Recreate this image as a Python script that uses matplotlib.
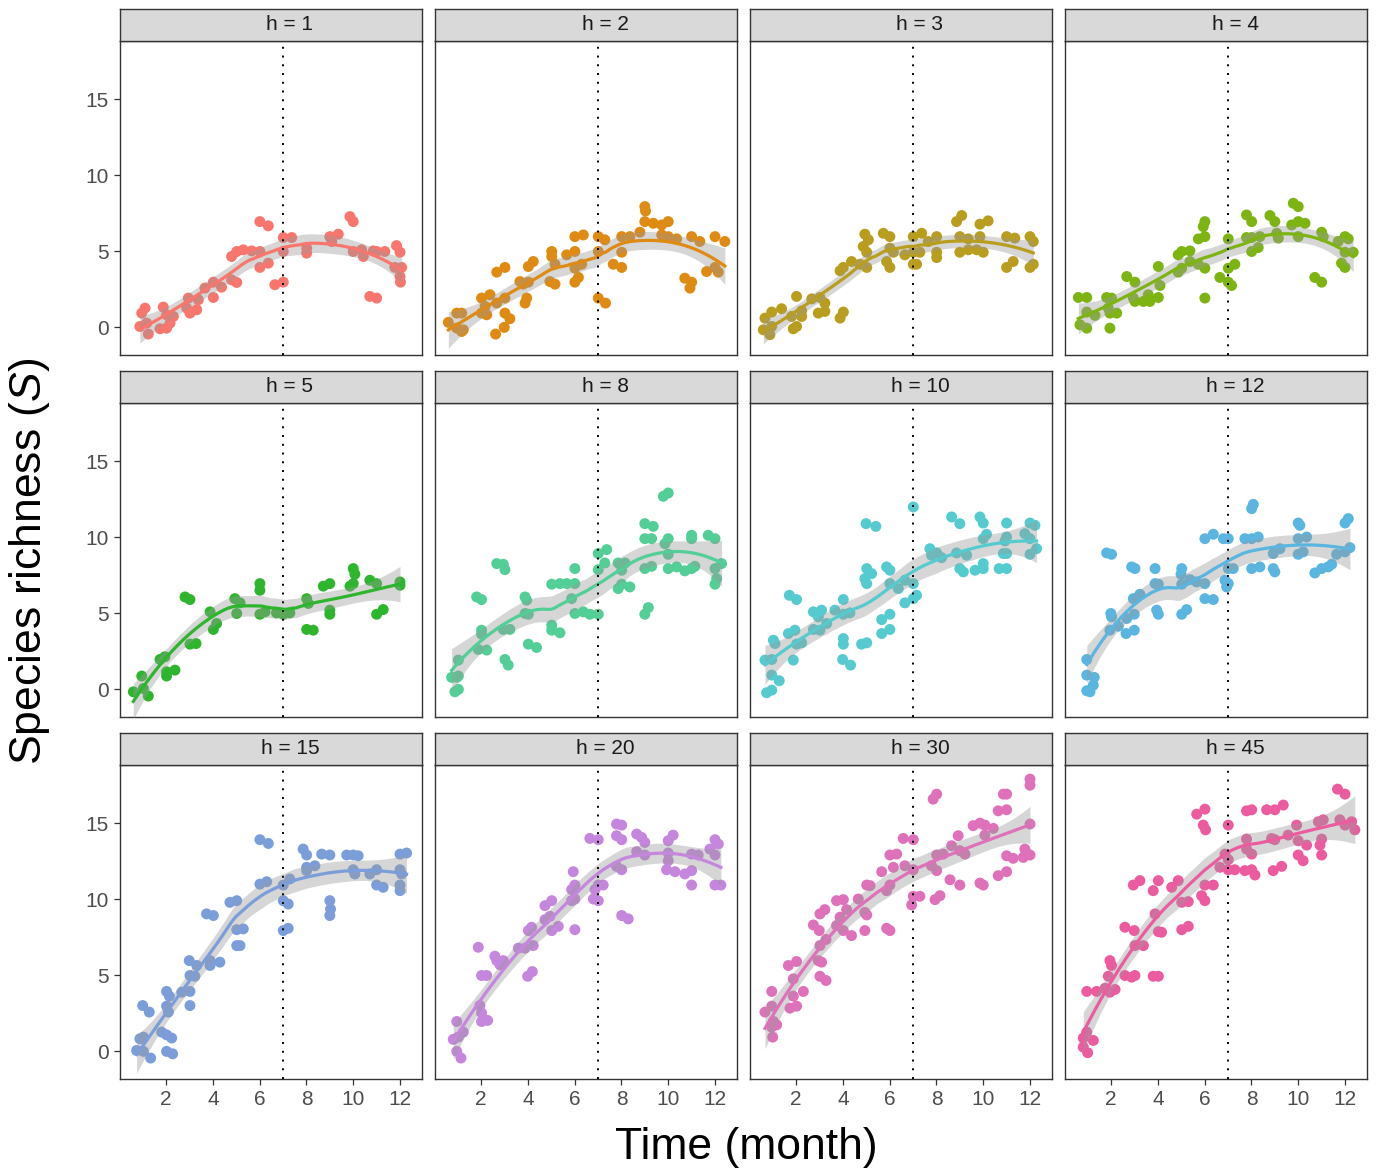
import numpy as np
import matplotlib
matplotlib.use("Agg")
import matplotlib.pyplot as plt

plt.rcParams["font.family"] = ["Liberation Sans", "DejaVu Sans"]
plt.rcParams["mathtext.fontset"] = "custom"
plt.rcParams["mathtext.rm"] = "Liberation Sans"
plt.rcParams["mathtext.it"] = "Liberation Sans:italic"

# panel labels and colours
h_values = [1, 2, 3, 4, 5, 8, 10, 12, 15, 20, 30, 45]
colors = ["#F8766D", "#DF8A12", "#B99D1E", "#7DB412", "#2DB52D", "#52CE96",
          "#56CBCF", "#5AB5E0", "#7B9EDB", "#C586DD", "#DF70BA", "#EC5B9F"]

# (time in months, species richness)
h1_points = [(1.10, 1.25), (0.96, 0.92), (0.88, 0.04), (1.17, 0.26), (1.24, -0.46), (1.88, 1.32),
             (2.02, 0.81), (1.74, -0.11), (2.02, -0.07), (2.31, 0.70), (2.17, 0.26), (2.95, 1.91),
             (2.88, 1.25), (3.02, 0.92), (3.31, 1.14), (3.38, 1.80), (3.66, 2.57), (4.02, 2.96),
             (4.02, 1.95), (4.37, 2.63), (4.80, 3.11), (5.02, 2.94), (4.80, 4.65), (5.02, 4.98),
             (5.30, 5.09), (5.66, 5.02), (6.01, 4.98), (6.01, 3.93), (6.37, 4.21), (6.01, 6.95),
             (6.37, 6.67), (6.65, 2.79), (7.01, 2.96), (7.01, 4.98), (7.01, 5.90), (7.37, 5.90),
             (8.01, 5.20), (8.01, 4.87), (9.00, 5.96), (9.36, 6.12), (9.08, 5.64), (9.86, 7.28),
             (10.00, 6.95), (10.00, 4.98), (10.36, 5.09), (10.43, 4.65), (10.86, 5.02), (11.00, 4.98),
             (11.35, 4.98), (10.71, 2.02), (11.00, 1.91), (11.85, 5.37), (12.00, 4.93), (11.78, 3.93),
             (12.07, 3.93), (12.00, 3.33), (12.02, 2.96)]
h2_points = [(0.60, 0.31), (0.96, 0.92), (1.17, 0.92), (0.96, -0.07), (1.17, -0.29), (1.24, -0.18),
             (2.02, 1.91), (2.38, 2.13), (2.17, 1.36), (2.24, 0.81), (2.02, 0.92), (2.67, 1.58),
             (3.02, 1.91), (2.67, 3.62), (3.02, 3.93), (2.62, -0.46), (2.99, -0.02), (3.02, 0.92),
             (3.23, 0.55), (3.66, 3.00), (3.80, 2.83), (4.02, 3.99), (4.23, 4.32), (3.95, 1.91),
             (3.88, 1.58), (4.02, 2.96), (5.02, 4.98), (5.02, 4.65), (5.16, 4.14), (4.94, 3.00),
             (5.16, 2.83), (5.66, 4.76), (6.01, 4.98), (6.01, 5.96), (6.37, 6.07), (6.01, 3.88),
             (6.30, 4.14), (6.01, 2.96), (6.16, 3.27), (7.01, 5.96), (7.29, 5.75), (7.01, 4.98),
             (7.01, 1.91), (7.32, 1.58), (7.65, 4.14), (8.01, 3.93), (8.01, 4.93), (8.01, 5.96),
             (8.36, 5.96), (8.79, 6.25), (9.00, 7.94), (9.03, 7.65), (9.00, 6.95), (9.36, 6.84),
             (9.72, 6.73), (10.00, 6.95), (9.72, 6.07), (10.00, 5.96), (10.36, 5.81), (10.71, 3.22),
             (11.00, 2.96), (10.93, 2.57), (11.00, 5.96), (11.35, 5.64), (11.64, 3.66), (12.00, 5.96),
             (12.42, 5.64), (12.00, 3.93), (12.14, 3.62)]
h3_points = [(0.67, 0.59), (0.96, 0.99), (1.38, 1.21), (0.60, -0.18), (0.88, -0.50), (0.96, 0.04),
             (1.88, -0.11), (2.02, 0.04), (2.02, 2.02), (1.81, 0.70), (2.24, 0.70), (2.24, 1.07),
             (2.67, 1.86), (3.02, 1.95), (3.23, 1.58), (2.95, 0.92), (3.23, 1.03), (3.88, 0.59),
             (4.02, 0.99), (3.88, 3.71), (4.02, 3.93), (4.37, 4.32), (4.94, 6.12), (5.09, 5.75),
             (4.87, 5.31), (5.02, 4.93), (4.73, 4.14), (5.02, 3.93), (5.73, 6.18), (6.01, 5.96),
             (6.01, 5.20), (6.16, 4.93), (5.87, 4.32), (6.01, 3.93), (6.65, 4.76), (7.01, 5.96),
             (7.37, 6.18), (7.01, 4.93), (7.29, 4.93), (7.01, 4.14), (7.15, 4.14), (7.65, 5.64),
             (8.01, 5.96), (8.01, 4.93), (8.01, 4.58), (8.86, 6.95), (9.08, 7.35), (9.00, 5.96),
             (9.36, 5.81), (9.00, 4.93), (9.36, 5.09), (9.72, 5.09), (10.00, 4.93), (9.86, 6.78),
             (10.21, 7.00), (9.86, 5.96), (11.00, 5.96), (11.35, 5.86), (11.00, 3.93), (11.28, 4.32),
             (12.00, 5.96), (12.14, 5.64), (12.00, 3.93), (12.14, 4.14)]
h4_points = [(0.60, 1.95), (0.96, 1.95), (0.96, 0.99), (0.67, 0.15), (0.96, -0.07), (1.31, 0.77),
             (1.81, 1.95), (2.02, 1.91), (1.88, 1.25), (1.95, 0.92), (2.24, 0.92), (1.95, -0.07),
             (2.67, 3.33), (3.02, 2.96), (2.95, 1.91), (3.02, 1.69), (3.38, 1.69), (3.59, 2.13),
             (3.66, 1.69), (4.02, 1.95), (4.02, 3.99), (4.09, 2.74), (4.87, 4.76), (5.02, 4.98),
             (5.37, 5.02), (4.87, 3.62), (5.02, 3.88), (5.37, 4.32), (5.73, 4.14), (6.01, 3.88),
             (6.01, 1.91), (6.01, 6.95), (5.94, 6.62), (5.73, 5.81), (6.01, 5.96), (6.65, 3.27),
             (7.01, 2.96), (7.15, 2.74), (7.01, 3.88), (7.29, 4.14), (7.01, 5.81), (7.79, 7.39),
             (8.01, 6.95), (7.79, 5.90), (8.01, 5.90), (8.36, 5.96), (8.01, 4.98), (8.29, 5.24),
             (8.79, 7.35), (9.00, 6.95), (9.08, 6.18), (9.15, 5.86), (9.79, 8.16), (10.00, 7.94),
             (9.72, 6.73), (10.00, 6.95), (10.29, 6.84), (10.00, 5.96), (10.71, 3.27), (11.00, 2.96),
             (11.00, 6.25), (11.07, 5.96), (11.71, 5.64), (12.00, 5.96), (12.14, 5.81), (12.00, 4.93),
             (12.35, 4.93), (11.85, 4.21), (12.00, 3.93)]
h5_points = [(0.60, -0.18), (0.96, 0.86), (1.03, 0.04), (1.24, -0.46), (1.74, 1.95), (1.95, 2.13),
             (2.02, 1.14), (2.02, 0.86), (2.38, 1.25), (2.81, 6.07), (3.02, 5.90), (3.02, 2.96),
             (3.28, 3.00), (3.88, 5.09), (4.16, 4.32), (4.02, 3.93), (4.94, 5.96), (5.16, 5.68),
             (5.02, 4.98), (6.01, 6.95), (6.01, 6.51), (6.01, 4.93), (6.23, 5.09), (6.72, 5.02),
             (7.01, 4.93), (7.29, 5.02), (8.01, 5.96), (8.08, 5.64), (8.01, 3.93), (8.29, 3.88),
             (8.72, 6.78), (9.00, 6.95), (9.00, 5.20), (9.00, 4.93), (9.86, 6.78), (10.00, 6.95),
             (10.00, 7.94), (10.07, 7.57), (10.71, 7.17), (11.00, 6.95), (11.00, 4.93), (11.28, 5.24),
             (12.00, 7.06), (12.00, 6.84)]
h8_points = [(0.74, 0.77), (0.96, 0.77), (1.03, 0.86), (0.88, -0.18), (1.03, -0.02), (1.03, 1.91),
             (2.02, 3.88), (2.02, 3.62), (1.88, 2.61), (2.24, 2.57), (1.81, 6.07), (2.02, 5.90),
             (2.67, 8.27), (2.95, 8.22), (3.02, 7.87), (2.95, 3.93), (3.23, 3.93), (3.02, 1.95),
             (3.16, 1.58), (3.88, 6.07), (3.95, 5.86), (3.88, 4.98), (4.02, 4.93), (4.02, 2.96),
             (4.37, 2.74), (5.02, 6.91), (5.37, 6.95), (5.66, 6.95), (6.01, 6.95), (5.02, 4.21),
             (5.02, 3.88), (5.37, 3.71), (6.01, 7.94), (5.87, 5.96), (6.01, 4.98), (6.37, 5.09),
             (6.65, 4.93), (7.01, 4.93), (7.01, 8.93), (7.37, 9.19), (7.29, 8.31), (7.01, 7.87),
             (7.86, 8.31), (8.15, 8.31), (8.01, 7.83), (7.86, 6.62), (8.01, 6.91), (8.36, 6.73),
             (9.00, 10.90), (9.36, 10.72), (9.00, 9.91), (9.29, 9.91), (9.00, 7.94), (9.29, 8.09),
             (9.00, 4.93), (9.15, 5.37), (9.79, 12.70), (10.00, 12.92), (9.86, 9.58), (10.00, 9.91),
             (10.00, 7.94), (10.36, 8.05), (10.00, 8.88), (10.71, 7.79), (11.00, 7.94), (11.14, 8.09),
             (11.00, 10.13), (11.00, 9.91), (11.71, 10.13), (12.00, 9.91), (12.00, 7.94), (12.28, 8.27),
             (12.07, 7.28), (12.00, 6.91)]
h10_points = [(0.74, -0.24), (0.96, -0.07), (0.96, 0.92), (1.28, 0.55), (0.67, 1.91), (0.96, 1.95),
              (1.03, 3.22), (1.10, 3.00), (1.67, 3.66), (1.95, 3.88), (2.02, 2.96), (2.24, 3.05),
              (1.88, 1.91), (1.71, 6.18), (2.02, 5.90), (2.74, 5.09), (3.09, 5.20), (2.95, 4.76),
              (3.31, 4.32), (2.74, 3.93), (3.02, 3.88), (3.66, 5.20), (4.02, 5.90), (4.02, 4.93),
              (4.30, 5.02), (4.02, 3.33), (4.02, 2.96), (3.99, 1.95), (4.33, 1.58), (4.80, 2.96),
              (5.02, 3.05), (5.02, 7.94), (5.23, 7.61), (4.94, 7.28), (5.02, 6.95), (4.99, 10.90),
              (5.41, 10.72), (5.66, 4.58), (6.01, 4.93), (5.66, 3.66), (6.01, 3.93), (5.87, 8.05),
              (6.01, 7.83), (6.01, 6.95), (6.37, 6.62), (6.65, 7.17), (6.65, 5.68), (7.01, 5.96),
              (7.15, 6.18), (7.01, 6.95), (7.01, 12.00), (7.72, 9.25), (7.79, 8.82), (8.01, 8.97),
              (8.22, 8.66), (8.65, 11.34), (9.00, 10.90), (8.86, 8.97), (9.29, 8.82), (9.00, 7.94),
              (9.15, 7.72), (9.65, 7.83), (10.00, 7.94), (10.00, 8.27), (9.86, 11.34), (10.00, 10.94),
              (10.00, 9.91), (10.14, 10.20), (10.86, 8.93), (11.00, 8.93), (10.93, 9.76), (11.00, 10.02),
              (11.00, 10.94), (10.68, 7.94), (11.00, 7.94), (11.78, 10.24), (12.00, 10.94), (12.21, 10.79),
              (12.00, 9.91), (12.28, 9.25), (12.00, 8.88)]
h12_points = [(0.96, -0.11), (1.10, -0.18), (1.24, 0.26), (1.28, 0.77), (0.96, 0.92), (0.96, 1.95),
              (1.81, 8.97), (2.02, 8.88), (1.99, 4.98), (2.02, 4.76), (1.95, 3.88), (2.31, 4.14),
              (2.67, 4.65), (2.99, 4.93), (2.64, 3.66), (2.99, 3.88), (2.88, 8.05), (3.02, 7.94),
              (2.95, 5.96), (3.23, 6.25), (3.88, 7.94), (3.88, 6.95), (4.02, 6.91), (3.95, 5.20),
              (4.02, 4.93), (5.02, 7.94), (4.99, 7.57), (5.02, 6.91), (5.37, 7.21), (5.66, 7.06),
              (6.01, 6.95), (5.02, 4.93), (5.23, 5.24), (6.01, 5.96), (6.37, 5.90), (6.01, 9.91),
              (6.37, 10.20), (6.80, 9.91), (7.01, 9.91), (6.87, 7.17), (7.01, 6.95), (6.94, 6.73),
              (7.22, 7.94), (7.01, 7.94), (7.72, 9.91), (8.01, 9.91), (8.29, 10.02), (8.01, 11.89),
              (8.08, 12.17), (8.01, 7.94), (8.36, 8.05), (8.93, 8.93), (9.22, 9.25), (8.93, 7.94),
              (9.00, 7.72), (10.00, 10.94), (10.07, 10.79), (10.00, 9.91), (10.36, 10.02), (10.00, 8.88),
              (10.21, 9.04), (10.71, 7.65), (11.00, 7.94), (11.28, 8.05), (11.43, 8.22), (11.64, 8.88),
              (12.00, 9.04), (12.21, 9.32), (12.00, 10.94), (12.14, 11.23)]
h15_points = [(0.74, 0.04), (1.03, -0.02), (1.34, -0.46), (2.02, -0.02), (2.28, -0.18), (1.81, 1.25),
              (2.02, 1.07), (2.24, 0.86), (0.88, 0.81), (1.03, 0.92), (1.00, 3.00), (1.28, 2.57),
              (2.02, 3.93), (2.14, 3.62), (2.02, 2.96), (2.10, 2.57), (2.67, 3.88), (3.02, 3.93),
              (3.02, 3.00), (3.02, 4.98), (2.99, 5.96), (3.31, 5.64), (3.23, 4.93), (3.88, 5.96),
              (3.88, 5.64), (4.30, 5.86), (3.73, 9.04), (4.02, 8.93), (5.02, 8.00), (5.30, 8.05),
              (5.02, 6.95), (5.16, 6.95), (4.73, 9.80), (5.02, 9.91), (6.01, 13.93), (6.37, 13.68),
              (6.01, 11.00), (6.30, 11.16), (7.01, 9.91), (7.22, 9.69), (7.01, 7.94), (7.22, 8.09),
              (7.29, 11.34), (7.01, 10.94), (7.86, 13.31), (8.01, 12.92), (8.01, 12.11), (8.36, 12.21),
              (8.01, 11.89), (8.65, 12.98), (9.00, 12.92), (9.00, 9.91), (9.03, 9.36), (9.00, 8.93),
              (9.72, 12.92), (10.00, 12.92), (10.21, 12.87), (10.00, 11.95), (10.07, 11.67), (10.71, 11.67),
              (11.00, 11.95), (11.00, 10.94), (11.28, 10.79), (12.00, 12.98), (12.28, 13.05), (12.00, 11.95),
              (12.07, 11.67), (12.00, 10.94), (12.00, 10.57)]
h20_points = [(0.81, 0.77), (1.03, 0.92), (0.96, 1.95), (1.24, 1.25), (0.96, -0.02), (1.14, -0.46),
              (1.95, 3.00), (2.02, 2.52), (2.02, 1.95), (2.28, 2.02), (1.88, 6.84), (2.02, 4.98),
              (2.24, 4.98), (2.59, 6.25), (2.67, 5.96), (2.95, 5.96), (2.81, 5.68), (3.59, 6.78),
              (3.88, 6.78), (4.23, 6.95), (4.02, 7.94), (4.16, 8.16), (3.99, 4.93), (4.19, 5.24),
              (4.73, 9.58), (5.02, 9.91), (4.73, 8.66), (4.94, 8.88), (5.02, 7.94), (5.30, 8.22),
              (6.01, 8.00), (5.87, 9.91), (6.01, 10.02), (5.87, 10.64), (6.01, 10.94), (5.94, 11.82),
              (6.80, 10.02), (7.01, 9.91), (6.87, 10.64), (7.22, 10.94), (7.01, 10.94), (6.65, 14.01),
              (7.01, 13.93), (7.79, 14.19), (8.01, 13.93), (7.79, 14.96), (8.01, 14.89), (7.79, 12.17),
              (8.01, 11.95), (8.01, 8.93), (8.29, 8.71), (8.65, 14.30), (8.86, 14.08), (9.00, 13.75),
              (8.65, 13.14), (9.00, 12.92), (10.00, 13.86), (10.21, 14.23), (10.00, 13.05), (10.00, 12.54),
              (9.93, 11.95), (10.29, 11.82), (10.71, 11.67), (11.00, 11.89), (11.00, 10.94), (11.00, 12.98),
              (11.28, 12.92), (11.78, 13.31), (12.00, 13.93), (12.14, 13.64), (12.00, 12.92), (12.00, 10.94),
              (12.25, 10.94)]
h30_points = [(0.67, 2.57), (0.96, 2.96), (0.96, 3.93), (1.03, 1.95), (0.96, 1.58), (1.17, 1.73),
              (1.00, 0.92), (1.74, 2.83), (2.02, 2.96), (1.88, 3.62), (2.31, 3.93), (1.88, 4.76),
              (1.67, 5.64), (2.02, 5.90), (2.95, 5.96), (3.09, 5.86), (3.02, 4.93), (3.28, 4.65),
              (3.02, 6.95), (3.28, 7.35), (2.74, 8.31), (2.99, 7.94), (3.02, 9.04), (3.23, 9.32),
              (3.73, 8.27), (4.02, 7.94), (3.88, 8.82), (4.16, 9.32), (3.73, 9.91), (4.02, 9.98),
              (4.37, 7.61), (4.94, 7.94), (5.02, 8.97), (4.94, 9.14), (4.66, 10.02), (5.02, 10.94),
              (5.16, 10.90), (5.87, 10.57), (6.01, 10.94), (5.87, 8.09), (6.01, 7.94), (5.66, 11.82),
              (6.16, 12.11), (6.01, 12.92), (6.30, 12.98), (6.65, 12.21), (7.01, 11.95), (6.58, 14.01),
              (7.01, 13.93), (7.01, 10.20), (7.29, 10.20), (6.94, 9.63), (8.01, 12.92), (8.29, 12.98),
              (8.01, 11.89), (7.79, 12.21), (7.94, 9.98), (8.15, 10.24), (8.58, 11.29), (9.00, 10.94),
              (8.65, 13.53), (8.93, 14.19), (9.00, 13.20), (9.22, 12.98), (9.86, 11.07), (10.00, 10.94),
              (9.57, 14.85), (9.86, 15.02), (10.07, 14.89), (10.43, 14.67), (10.07, 14.23), (10.64, 11.56),
              (11.00, 11.82), (11.00, 12.87), (11.28, 12.70), (11.78, 13.31), (11.71, 12.76), (12.00, 12.92),
              (10.64, 15.83), (11.00, 15.90), (10.86, 16.93), (11.00, 16.93), (12.00, 17.92), (12.00, 17.52),
              (12.00, 14.96), (7.86, 16.60), (8.01, 16.93)]
h45_points = [(0.81, 0.86), (0.96, 1.25), (1.24, 0.70), (0.81, 0.26), (1.00, -0.11), (0.96, 3.93),
              (1.38, 3.93), (1.74, 4.14), (1.95, 3.88), (2.17, 4.06), (1.88, 4.93), (2.02, 5.64),
              (1.95, 5.96), (2.59, 4.98), (2.88, 4.87), (3.02, 4.98), (2.59, 8.16), (2.99, 7.94),
              (3.02, 6.95), (3.38, 6.95), (3.80, 4.93), (4.02, 4.93), (3.88, 9.04), (4.02, 7.87),
              (4.16, 7.83), (2.95, 10.94), (3.23, 11.23), (3.80, 10.57), (4.02, 11.23), (4.59, 10.79),
              (4.87, 11.23), (5.02, 9.80), (5.30, 9.85), (5.02, 8.00), (5.30, 8.22), (5.66, 15.61),
              (6.01, 15.94), (5.94, 14.89), (6.04, 14.58), (6.01, 10.94), (6.37, 10.94), (5.87, 10.24),
              (6.01, 9.91), (6.65, 12.11), (7.01, 11.95), (7.29, 11.95), (6.87, 12.98), (7.01, 12.61),
              (7.01, 14.89), (7.79, 15.83), (8.01, 15.90), (7.79, 13.97), (7.79, 13.31), (8.01, 12.98),
              (7.72, 11.89), (8.01, 11.95), (8.15, 11.60), (8.65, 15.90), (9.00, 15.90), (9.36, 16.21),
              (8.86, 14.01), (9.00, 13.93), (8.93, 11.89), (9.29, 12.17), (9.57, 14.23), (9.93, 14.89),
              (10.00, 13.86), (10.36, 13.57), (10.00, 12.92), (10.21, 12.54), (10.86, 15.11), (11.07, 15.24),
              (11.00, 13.97), (10.93, 13.57), (11.00, 12.92), (11.78, 15.24), (12.00, 14.89), (12.28, 15.11),
              (12.42, 14.58), (11.68, 17.26), (12.00, 16.93)]

panels = [h1_points, h2_points, h3_points, h4_points, h5_points, h8_points,
          h10_points, h12_points, h15_points, h20_points, h30_points, h45_points]


def loess(x, y, grid, span=0.75):
    # local quadratic fit with tricube weights, like R's loess()
    n = len(x)
    q = int(np.floor(n * span))

    def row(x0):
        d = np.abs(x - x0)
        h = np.sort(d)[q - 1]
        w = np.clip(1 - (d / h) ** 3, 0, None) ** 3
        X = np.column_stack([np.ones(n), x - x0, (x - x0) ** 2])
        XtW = X.T * w
        return np.linalg.solve(XtW @ X, XtW)[0]

    L_data = np.array([row(v) for v in x])
    L_grid = np.array([row(v) for v in grid])
    M = np.eye(n) - L_data
    resid = M @ y
    sigma = np.sqrt(np.sum(resid ** 2) / np.trace(M.T @ M))
    fit = L_grid @ y
    se = sigma * np.sqrt(np.sum(L_grid ** 2, axis=1))
    return fit, se


W, H = 1376, 1173
fig = plt.figure(figsize=(W / 100, H / 100), dpi=100)

col_left = [120, 435, 750, 1065]
row_top = [41, 403, 765]
pw, ph, sh = 302, 314, 32

for i, pts in enumerate(panels):
    r, c = divmod(i, 4)
    left, top = col_left[c], row_top[r]
    ax = fig.add_axes([left / W, 1 - (top + ph) / H, pw / W, ph / H])
    x, y = np.array(pts).T
    order = np.argsort(x)
    x, y = x[order], y[order]
    grid = np.linspace(x.min(), x.max(), 80)
    fit, se = loess(x, y, grid)

    ax.scatter(x, y, s=62, color=colors[i], edgecolors="none", zorder=2)
    ax.fill_between(grid, fit - 1.99 * se, fit + 1.99 * se, color="#999999",
                    alpha=0.4, lw=0, zorder=3)
    ax.plot(grid, fit, color=colors[i], lw=2.3, zorder=4)
    ax.axvline(7, color="black", lw=1.4, ls=(0, (1, 3.5)), zorder=5)

    ax.set_xlim(0.03, 12.94)
    ax.set_ylim(-1.84, 18.85)
    ax.set_xticks([2, 4, 6, 8, 10, 12])
    ax.set_yticks([0, 5, 10, 15])
    ax.tick_params(direction="out", length=4, width=0.9, color="#333333",
                   labelsize=15, labelcolor="#4D4D4D", pad=4)
    if c != 0:
        ax.tick_params(axis="y", left=False, labelleft=False)
    if r != 2:
        ax.tick_params(axis="x", bottom=False, labelbottom=False)
    for sp in ax.spines.values():
        sp.set_color("#333333")
        sp.set_linewidth(1.0)

    # facet strip
    sax = fig.add_axes([left / W, 1 - top / H, pw / W, sh / H])
    sax.set_facecolor("#D9D9D9")
    sax.set_xticks([])
    sax.set_yticks([])
    for sp in sax.spines.values():
        sp.set_color("#333333")
        sp.set_linewidth(1.0)
    sax.text(0.5 + 19 / pw, 0.5, f"h = {h_values[i]}", ha="center", va="center",
             fontsize=15, color="#1A1A1A", transform=sax.transAxes)

fig.text(30 / W, 1 - 561 / H, r"Species richness ($\mathit{S}$)", rotation=90,
         ha="center", va="center", fontsize=32)
fig.text(746 / W, 1 - 1148 / H, "Time (month)", ha="center", va="center", fontsize=32)

fig.savefig("out.png", dpi=100, facecolor="white")
